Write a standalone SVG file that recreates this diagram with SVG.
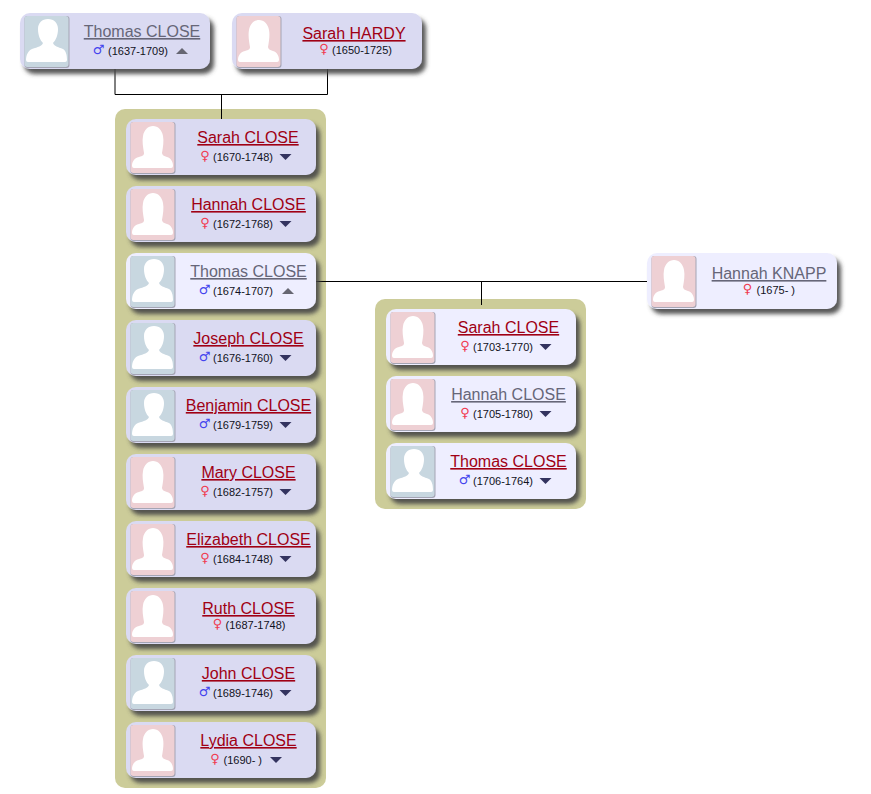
<svg xmlns="http://www.w3.org/2000/svg" width="871" height="794" viewBox="0 0 871 794">
<style>
text{font-family:"Liberation Sans",Arial,sans-serif}
.nm{font-size:16px;text-anchor:middle;text-decoration:underline;fill:#a00014}
.nm.g{fill:#666678}
.dt{font-size:11px;fill:#112}
.sy{font-family:"DejaVu Sans",sans-serif;font-size:13px;text-anchor:middle}
.sy.m{fill:#4444ee}.sy.f{fill:#f03a50}
.card{fill:#dadaf2;filter:url(#sh)}
.card.hl{fill:#eeeeff}
.pn{fill:#cccc99}
.cn{fill:none;stroke:#000;stroke-width:1}
.dn{fill:#33335f}.up{fill:#666672}
</style>
<defs>
<filter id="sh" x="-10%" y="-20%" width="125%" height="150%"><feDropShadow dx="4" dy="5" stdDeviation="2" flood-color="#444" flood-opacity="0.9"/></filter>
<g id="mi"><rect x="4.500" y="3" width="45" height="52" rx="3" fill="#a4a4b4"/><rect x="4.500" y="3" width="44" height="51" rx="3" fill="#c8d7e0"/><path d="M6 47C6 42 8 38 12 36C18 34 22 33 23 30C20 27 18 22 18 16C18 10 22 6 28 6C34 6 38 10 38 16C38 22 36 27 33 30C34 33 38 34 43 36C46 38 47 42 47 47Q47 49 45 49H8Q6 49 6 47Z" fill="#fff"/></g>
<g id="fi"><rect x="4.500" y="3" width="45" height="52" rx="3" fill="#a4a4b4"/><rect x="4.500" y="3" width="44" height="51" rx="3" fill="#eed0d4"/><path d="M6 47C6 43 8 39 13 38C17 37 18 36 18 34C17 28 16 22 17 17C18 11 22 7 27 7C32 7 36 11 37 17C38 22 37 28 36 34C36 36 38 37 41 38C45 39 47 43 47 47Q47 49 45 49H8Q6 49 6 47Z" fill="#fff"/></g>
</defs>
<rect class="pn" x="115" y="109" width="211" height="679" rx="10"/>
<rect class="pn" x="375" y="299" width="211" height="210" rx="10"/>
<g id="connectors">
<path class="cn" d="M115 69V94.500H327.500V69M221.500 94.500V119M316 281.500H647M481.500 281.500V305"/>
</g>
<g id="n-thomas-1637" transform="translate(20,13)"><rect class="card" width="190" height="56" rx="10"/><use href="#mi"/><text class="nm g" x="122" y="24">Thomas CLOSE</text><text class="sy m" x="78.500" y="41">♂</text><text class="dt" x="88" y="42">(1637-1709)</text><path class="up" d="M156 41h12l-6-6z"/></g>
<g id="n-sarah-hardy" transform="translate(232,13)"><rect class="card" width="190" height="56" rx="10"/><use href="#fi"/><text class="nm" x="122" y="26">Sarah HARDY</text><text class="sy f" x="92" y="40">♀</text><text class="dt" x="100" y="41">(1650-1725)</text></g>
<g id="n-sarah-close" transform="translate(126,119)"><rect class="card" width="190" height="56" rx="10"/><use href="#fi"/><text class="nm" x="122" y="24">Sarah CLOSE</text><text class="sy f" x="79" y="41">♀</text><text class="dt" x="87" y="42">(1670-1748)</text><path class="dn" d="M153.500 35h12l-6 6z"/></g>
<g id="n-hannah-close" transform="translate(126,186)"><rect class="card" width="190" height="56" rx="10"/><use href="#fi"/><text class="nm" x="122.500" y="24">Hannah CLOSE</text><text class="sy f" x="79" y="41">♀</text><text class="dt" x="87" y="42">(1672-1768)</text><path class="dn" d="M153.500 35h12l-6 6z"/></g>
<g id="n-thomas-1674" transform="translate(126,253)"><rect class="card hl" width="190" height="56" rx="10"/><use href="#mi"/><text class="nm g" x="122.500" y="24">Thomas CLOSE</text><text class="sy m" x="78.500" y="41">♂</text><text class="dt" x="87" y="42">(1674-1707)</text><path class="up" d="M156 41h12l-6-6z"/></g>
<g id="n-joseph" transform="translate(126,320)"><rect class="card" width="190" height="56" rx="10"/><use href="#mi"/><text class="nm" x="122.500" y="24">Joseph CLOSE</text><text class="sy m" x="78.500" y="41">♂</text><text class="dt" x="87" y="42">(1676-1760)</text><path class="dn" d="M153.500 35h12l-6 6z"/></g>
<g id="n-benjamin" transform="translate(126,387)"><rect class="card" width="190" height="56" rx="10"/><use href="#mi"/><text class="nm" x="122.500" y="24">Benjamin CLOSE</text><text class="sy m" x="78.500" y="41">♂</text><text class="dt" x="87" y="42">(1679-1759)</text><path class="dn" d="M153.500 35h12l-6 6z"/></g>
<g id="n-mary" transform="translate(126,454)"><rect class="card" width="190" height="56" rx="10"/><use href="#fi"/><text class="nm" x="122.500" y="24">Mary CLOSE</text><text class="sy f" x="79" y="41">♀</text><text class="dt" x="87" y="42">(1682-1757)</text><path class="dn" d="M153.500 35h12l-6 6z"/></g>
<g id="n-elizabeth" transform="translate(126,521)"><rect class="card" width="190" height="56" rx="10"/><use href="#fi"/><text class="nm" x="122.500" y="24">Elizabeth CLOSE</text><text class="sy f" x="79" y="41">♀</text><text class="dt" x="87" y="42">(1684-1748)</text><path class="dn" d="M153.500 35h12l-6 6z"/></g>
<g id="n-ruth" transform="translate(126,588)"><rect class="card" width="190" height="56" rx="10"/><use href="#fi"/><text class="nm" x="122.500" y="26">Ruth CLOSE</text><text class="sy f" x="91.500" y="40">♀</text><text class="dt" x="99.500" y="41">(1687-1748)</text></g>
<g id="n-john" transform="translate(126,655)"><rect class="card" width="190" height="56" rx="10"/><use href="#mi"/><text class="nm" x="122.500" y="24">John CLOSE</text><text class="sy m" x="78.500" y="41">♂</text><text class="dt" x="87" y="42">(1689-1746)</text><path class="dn" d="M153.500 35h12l-6 6z"/></g>
<g id="n-lydia" transform="translate(126,722)"><rect class="card" width="190" height="56" rx="10"/><use href="#fi"/><text class="nm" x="122.500" y="24">Lydia CLOSE</text><text class="sy f" x="89" y="41">♀</text><text class="dt" x="97.500" y="42">(1690- )</text><path class="dn" d="M144 35h12l-6 6z"/></g>
<g id="n-hannah-knapp" transform="translate(647,253)"><rect class="card hl" width="190" height="56" rx="10"/><use href="#fi"/><text class="nm g" x="122" y="26">Hannah KNAPP</text><text class="sy f" x="100.500" y="40">♀</text><text class="dt" x="109.500" y="41">(1675- )</text></g>
<g id="n-sarah-1703" transform="translate(386,309)"><rect class="card hl" width="190" height="56" rx="10"/><use href="#fi"/><text class="nm" x="122.500" y="24">Sarah CLOSE</text><text class="sy f" x="79" y="41">♀</text><text class="dt" x="87" y="42">(1703-1770)</text><path class="dn" d="M153.500 35h12l-6 6z"/></g>
<g id="n-hannah-1705" transform="translate(386,376)"><rect class="card hl" width="190" height="56" rx="10"/><use href="#fi"/><text class="nm g" x="122.500" y="24">Hannah CLOSE</text><text class="sy f" x="79" y="41">♀</text><text class="dt" x="87" y="42">(1705-1780)</text><path class="dn" d="M153.500 35h12l-6 6z"/></g>
<g id="n-thomas-1706" transform="translate(386,443)"><rect class="card hl" width="190" height="56" rx="10"/><use href="#mi"/><text class="nm" x="122.500" y="24">Thomas CLOSE</text><text class="sy m" x="78.500" y="41">♂</text><text class="dt" x="87" y="42">(1706-1764)</text><path class="dn" d="M153.500 35h12l-6 6z"/></g>
</svg>
